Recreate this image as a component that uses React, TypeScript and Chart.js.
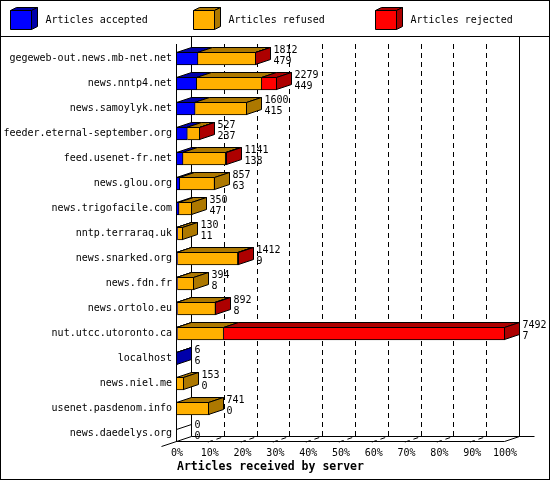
import React, { useRef, useEffect } from 'react';
import { Chart, Plugin, registerables } from 'chart.js';

Chart.register(...registerables);

// Data
const servers = [
    'gegeweb-out.news.mb-net.net',
    'news.nntp4.net',
    'news.samoylyk.net',
    'feeder.eternal-september.org',
    'feed.usenet-fr.net',
    'news.glou.org',
    'news.trigofacile.com',
    'nntp.terraraq.uk',
    'news.snarked.org',
    'news.fdn.fr',
    'news.ortolo.eu',
    'nut.utcc.utoronto.ca',
    'localhost',
    'news.niel.me',
    'usenet.pasdenom.info',
    'news.daedelys.org',
];
const offered = [1812, 2279, 1600, 527, 1141, 857, 350, 130, 1412, 394, 892, 7492, 6, 153, 741, 0];
const accepted = [479, 449, 415, 237, 138, 63, 47, 11, 9, 8, 8, 7, 6, 0, 0, 0];
const refused = [1318, 1487, 1185, 282, 973, 794, 303, 119, 1380, 386, 870, 1058, 0, 153, 741, 0];
const rejected = [15, 343, 0, 8, 30, 0, 0, 0, 23, 0, 14, 6427, 0, 0, 0, 0];

const seriesNames = ['Articles accepted', 'Articles refused', 'Articles rejected'];
const frontColors = ['#0000ff', '#ffb000', '#ff0000'];
const shadeColors = ['#0000aa', '#ad7800', '#ad0000'];
const percentTicks = [0, 10, 20, 30, 40, 50, 60, 70, 80, 90, 100];

const FONT = '"DejaVu Sans Mono", monospace';
const DX = 15; // 3d depth
const DY = 5;

const series = [accepted, refused, rejected];
const maxOffered = Math.max(...offered);
const pct = (v: number) => (v / maxOffered) * 100;

const line = (ctx: CanvasRenderingContext2D, pts: number[][]) => {
    ctx.beginPath();
    ctx.moveTo(pts[0][0], pts[0][1]);
    for (let i = 1; i < pts.length; i++) ctx.lineTo(pts[i][0], pts[i][1]);
    ctx.stroke();
};

const face = (ctx: CanvasRenderingContext2D, pts: number[][], fill: string) => {
    ctx.beginPath();
    ctx.moveTo(pts[0][0], pts[0][1]);
    for (let i = 1; i < pts.length; i++) ctx.lineTo(pts[i][0], pts[i][1]);
    ctx.closePath();
    ctx.fillStyle = fill;
    ctx.fill();
    ctx.stroke();
};

const frame3d: Plugin<'bar'> = {
    id: 'frame3d',
    beforeDraw(chart) {
        const { ctx, width, height } = chart;
        ctx.save();
        ctx.fillStyle = '#fff';
        ctx.fillRect(0, 0, width, height);
        ctx.strokeStyle = '#000';
        ctx.lineWidth = 1;
        ctx.strokeRect(0.5, 0.5, width - 1, height - 1);
        line(ctx, [[0, 36.5], [width, 36.5]]);

        // legend with little cubes
        ctx.font = `10px ${FONT}`;
        ctx.textBaseline = 'middle';
        ctx.textAlign = 'left';
        seriesNames.forEach((name, d) => {
            const x = Math.floor(10.5 + d * 182.5) + 0.5;
            const top = 10.5, bottom = 29.5, w = 21, dx = 6, dy = 3;
            face(ctx, [[x, top], [x + w, top], [x + w + dx, top - dy], [x + dx, top - dy]], shadeColors[d]);
            face(ctx, [[x + w, top], [x + w + dx, top - dy], [x + w + dx, bottom - dy], [x + w, bottom]], shadeColors[d]);
            face(ctx, [[x, top], [x + w, top], [x + w, bottom], [x, bottom]], frontColors[d]);
            ctx.fillStyle = '#000';
            ctx.fillText(name, x + 35, 20.5);
        });
        ctx.restore();
    },
    beforeDatasetsDraw(chart) {
        const { ctx, chartArea, scales } = chart;
        const xs = scales.x;
        const x0 = Math.round(xs.getPixelForValue(0)) - 0.5;
        const x1 = Math.round(xs.getPixelForValue(100)) - 0.5;
        const front = Math.round(chartArea.bottom - DY) + 0.5;
        const back = front - DY;
        const wallTop = 36;
        const frontTop = chartArea.top - 2;
        ctx.save();
        ctx.strokeStyle = '#000';
        ctx.lineWidth = 1;

        ctx.setLineDash([5, 4]);
        percentTicks.slice(1, -1).forEach((p) => {
            const px = Math.round(xs.getPixelForValue(p)) - 0.5;
            line(ctx, [[px + DX, frontTop], [px + DX, back], [px - 3, front + 1]]);
        });
        ctx.setLineDash([]);

        line(ctx, [[x0 + DX, wallTop], [x0 + DX, back], [x1 + 2 * DX, back]]);
        line(ctx, [[x1 + DX, wallTop], [x1 + DX, back]]);
        line(ctx, [[x0, frontTop], [x0, front], [x1, front], [x1 + DX, back]]);
        line(ctx, [[x0 - DX, front + DY], [x0 + DX, back]]);
        ctx.restore();
    },
    afterDatasetsDraw(chart) {
        const { ctx, scales } = chart;
        const x0 = Math.round(scales.x.getPixelForValue(0)) - 0.5;
        const metas = series.map((_, d) => chart.getDatasetMeta(d));
        ctx.save();
        ctx.strokeStyle = '#000';
        ctx.lineWidth = 1;
        ctx.font = `10px ${FONT}`;
        ctx.textBaseline = 'middle';
        ctx.textAlign = 'left';

        servers.forEach((_, i) => {
            let last = -1;
            let end = x0;
            let yc = 0, yt = 0, yb = 0;
            series.forEach((values, d) => {
                const el = metas[d].data[i] as any;
                const p = el.getProps(['x', 'y', 'base', 'height'], true);
                yc = p.y;
                yt = Math.round(p.y - p.height / 2) + 0.5;
                yb = Math.round(p.y + p.height / 2) - 0.5;
                if (values[i] > 0) {
                    const a = Math.round(p.base) - 0.5;
                    const b = Math.round(p.x) - 0.5;
                    face(ctx, [[a, yt], [b, yt], [b + DX, yt - DY], [a + DX, yt - DY]], shadeColors[d]);
                    last = d;
                    end = b;
                }
            });
            if (last >= 0) {
                face(ctx, [[end, yt], [end + DX, yt - DY], [end + DX, yb - DY], [end, yb]], shadeColors[last]);
            } else {
                line(ctx, [[x0, yt + 2], [x0 + DX, yt + 2 - DY]]);
            }
            ctx.fillStyle = '#000';
            const tx = end + DX + 3;
            ctx.fillText(String(offered[i]), tx, yc - 8.5);
            ctx.fillText(String(accepted[i]), tx, yc + 2.5);
        });
        ctx.restore();
    },
};

const ServerChart: React.FC = () => {
    const chartRef = useRef<HTMLCanvasElement | null>(null);
    const chartInstance = useRef<Chart | null>(null);

    useEffect(() => {
        if (!chartRef.current) return;
        const ctx = chartRef.current.getContext('2d');
        if (!ctx) return;
        if (chartInstance.current) chartInstance.current.destroy();

        chartInstance.current = new Chart(ctx, {
            type: 'bar',
            data: {
                labels: servers,
                datasets: series.map((values, d) => ({
                    label: seriesNames[d],
                    data: values.map(pct),
                    backgroundColor: frontColors[d],
                    borderColor: '#000',
                    borderWidth: 1,
                    barThickness: 13,
                    stack: 'articles',
                })),
            },
            options: {
                indexAxis: 'y',
                responsive: false,
                devicePixelRatio: 1,
                animation: false,
                events: [],
                layout: { padding: { top: 46, right: 45, bottom: 0, left: 0 } },
                plugins: {
                    legend: { display: false },
                    tooltip: { enabled: false },
                },
                scales: {
                    x: {
                        stacked: true,
                        min: 0,
                        max: 100,
                        grid: { display: false, drawTicks: false },
                        border: { display: false },
                        afterFit: (scale: any) => { scale.height = 34; },
                        afterBuildTicks: (scale: any) => {
                            scale.ticks = percentTicks.map((value) => ({ value }));
                        },
                        ticks: {
                            color: '#000',
                            padding: 1,
                            maxRotation: 0,
                            autoSkip: false,
                            font: { family: FONT, size: 10 },
                            callback: (v: any) => `${v}%`,
                        },
                        title: {
                            display: true,
                            text: 'Articles received by server',
                            align: 'start',
                            color: '#000',
                            padding: { top: 0, bottom: 6 },
                            font: { family: FONT, size: 11.5, weight: 'bold', lineHeight: 1.2 },
                        },
                    },
                    y: {
                        stacked: true,
                        grid: { display: false, drawTicks: false },
                        border: { display: false },
                        afterFit: (scale: any) => { scale.width = 177; },
                        ticks: {
                            color: '#000',
                            padding: 5,
                            autoSkip: false,
                            font: { family: FONT, size: 10 },
                        },
                    },
                },
            },
            plugins: [frame3d],
        });

        return () => {
            if (chartInstance.current) {
                chartInstance.current.destroy();
                chartInstance.current = null;
            }
        };
    }, []);

    return (
        <div style={{ position: 'fixed', left: 0, top: 0, width: 550, height: 480 }}>
            <canvas ref={chartRef} width={550} height={480} style={{ display: 'block' }}></canvas>
        </div>
    );
};

export default function App() {
    return <ServerChart />;
}
